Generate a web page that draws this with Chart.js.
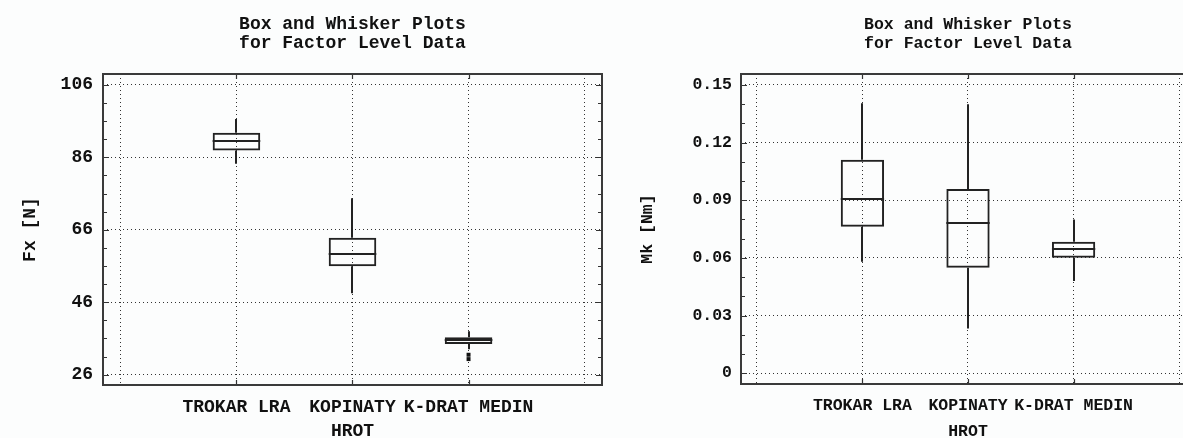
<!DOCTYPE html>
<html>
<head>
<meta charset="utf-8">
<script src="https://cdn.jsdelivr.net/npm/chart.js@4.4.1/dist/chart.umd.min.js"></script>
<style>
    html, body { margin: 0; padding: 0; background: #fcfdfd; width: 1183px; height: 438px; overflow: hidden; position: relative; }
    canvas { position: absolute; top: 0; }
    #fxChart { left: 0; }
    #mkChart { left: 620px; }
</style>
</head>
<body>
<canvas id="fxChart" width="705" height="448"></canvas>
<canvas id="mkChart" width="696" height="448"></canvas>
<script>
const categories = ['TROKAR LRA', 'KOPINATY', 'K-DRAT MEDIN'];
const chartTitle = ['Box and Whisker Plots', 'for Factor Level Data'];
const xTitle = 'HROT';

// Fx [N]
const fxLow = [84.2, 48.5, 33.0];
const fxQ1 = [87.9, 55.9, 34.5];
const fxMedian = [90.4, 59.4, 35.5];
const fxQ3 = [92.8, 63.8, 36.3];
const fxHigh = [96.6, 74.7, 38.0];
const fxOutliers = [[], [], [31.5, 30.3]];
const fxTicks = [26, 46, 66, 86, 106];
const fxMinorStep = 5;

// Mk [Nm]
const mkLow = [0.058, 0.0233, 0.048];
const mkQ1 = [0.0762, 0.0549, 0.0601];
const mkMedian = [0.0907, 0.078, 0.0644];
const mkQ3 = [0.1111, 0.0958, 0.0684];
const mkHigh = [0.1405, 0.140, 0.080];
const mkOutliers = [[], [], []];
const mkTicks = [0, 0.03, 0.06, 0.09, 0.12, 0.15];
const mkMinorStep = 0.01;

Chart.defaults.font.family = '"Liberation Mono", "DejaVu Sans Mono", monospace';
Chart.defaults.font.weight = 'bold';
Chart.defaults.color = '#111';

// whiskers, medians, frame and inward tick marks
function boxWhiskerPlugin(s) {
    return {
        id: 'boxWhisker',
        afterDatasetsDraw(chart) {
            const { ctx, chartArea: a, scales: { x, y } } = chart;
            const bars = chart.getDatasetMeta(0).data;
            ctx.save();
            ctx.strokeStyle = '#222';
            ctx.lineWidth = 2;
            ctx.beginPath();
            s.median.forEach((m, i) => {
                const bar = bars[i];
                const cx = Math.round(x.getPixelForValue(i + 1));
                const ym = Math.round(y.getPixelForValue(m));
                ctx.moveTo(bar.x - bar.width / 2, ym);
                ctx.lineTo(bar.x + bar.width / 2, ym);
                ctx.moveTo(cx, y.getPixelForValue(s.high[i]));
                ctx.lineTo(cx, y.getPixelForValue(s.q3[i]));
                ctx.moveTo(cx, y.getPixelForValue(s.q1[i]));
                ctx.lineTo(cx, y.getPixelForValue(s.low[i]));
            });
            ctx.stroke();

            ctx.strokeStyle = '#333';
            ctx.lineWidth = 1.2;
            ctx.beginPath();
            for (let k = 0; ; k++) {
                const v = s.ticks[0] + k * s.minor;
                if (v > y.max) break;
                const major = s.ticks.some(t => Math.abs(t - v) < s.minor / 100);
                const len = major ? 6 : 4;
                const py = Math.round(y.getPixelForValue(v)) + 0.5;
                ctx.moveTo(a.left, py); ctx.lineTo(a.left + len, py);
                ctx.moveTo(a.right, py); ctx.lineTo(a.right - len, py);
            }
            categories.forEach((c, i) => {
                const px = Math.round(x.getPixelForValue(i + 1)) + 0.5;
                ctx.moveTo(px, a.top); ctx.lineTo(px, a.top + 5);
                ctx.moveTo(px, a.bottom); ctx.lineTo(px, a.bottom - 5);
            });
            ctx.stroke();

            ctx.strokeStyle = '#3a3a3a';
            ctx.lineWidth = 2;
            ctx.strokeRect(a.left, a.top, a.width, a.height);
            ctx.restore();
        }
    };
}

function makeChart(id, s) {
    const outlierPoints = s.outliers.flatMap((arr, i) => arr.map(v => ({ x: i + 1, y: v })));
    const gridPositions = Array.from({ length: categories.length + 2 }, (_, i) => ({ value: i }));
    const font = { size: s.fontSize, weight: 'bold' };

    return new Chart(document.getElementById(id), {
        type: 'bar',
        data: {
            datasets: [
                {
                    type: 'bar',
                    data: categories.map((c, i) => ({ x: i + 1, y: [s.q1[i], s.q3[i]] })),
                    backgroundColor: 'rgba(0,0,0,0)',
                    borderColor: '#222',
                    borderWidth: 2,
                    borderSkipped: false,
                    barPercentage: 0.41,
                    categoryPercentage: 1
                },
                {
                    type: 'scatter',
                    data: outlierPoints,
                    pointStyle: 'rect',
                    pointRadius: 2.8,
                    backgroundColor: '#111',
                    borderWidth: 0
                }
            ]
        },
        options: {
            responsive: false,
            animation: false,
            events: [],
            plugins: {
                legend: { display: false },
                tooltip: { enabled: false },
                title: {
                    display: true,
                    text: chartTitle,
                    color: '#111',
                    font: { ...font, lineHeight: 19 / s.fontSize },
                    padding: { top: 15, bottom: 21 }
                }
            },
            scales: {
                x: {
                    type: 'linear',
                    offset: false,
                    min: -0.15,
                    max: 4.15,
                    afterBuildTicks: sc => { sc.ticks = gridPositions; },
                    afterFit: sc => { sc.height = s.axisHeight; },
                    grid: { color: '#333', lineWidth: 1, drawTicks: false, offset: false },
                    border: { display: false, dash: [1, 3] },
                    ticks: {
                        font: font,
                        padding: 12,
                        autoSkip: false,
                        maxRotation: 0,
                        callback: v => categories[v - 1] || ''
                    },
                    title: { display: true, text: xTitle, font: font, padding: { top: 0, bottom: 6 } }
                },
                y: {
                    type: 'linear',
                    min: s.min,
                    max: s.max,
                    afterBuildTicks: sc => { sc.ticks = s.ticks.map(v => ({ value: v })); },
                    afterFit: sc => { sc.width = s.axisWidth; },
                    grid: { color: '#333', lineWidth: 1, drawTicks: false },
                    border: { display: false, dash: [1, 3] },
                    ticks: { font: font, padding: s.labelPad, callback: v => String(v) },
                    title: { display: true, text: s.yTitle, font: font, padding: { top: s.titlePad } }
                },
                yr: {
                    type: 'linear',
                    position: 'right',
                    grid: { display: false },
                    border: { display: false },
                    ticks: { display: false },
                    afterFit: sc => { sc.width = s.axisWidth; }
                }
            }
        },
        plugins: [boxWhiskerPlugin(s)]
    });
}

makeChart('fxChart', {
    low: fxLow, q1: fxQ1, median: fxMedian, q3: fxQ3, high: fxHigh, outliers: fxOutliers,
    ticks: fxTicks, minor: fxMinorStep, min: 23.15, max: 109.0, fontSize: 18,
    yTitle: 'Fx [N]', axisWidth: 103, axisHeight: 63, labelPad: 10, titlePad: 20
});

makeChart('mkChart', {
    low: mkLow, q1: mkQ1, median: mkMedian, q3: mkQ3, high: mkHigh, outliers: mkOutliers,
    ticks: mkTicks, minor: mkMinorStep, min: -0.0056, max: 0.1557, fontSize: 16.5,
    yTitle: 'Mk [Nm]', axisWidth: 121, axisHeight: 64, labelPad: 9, titlePad: 18
});
</script>
</body>
</html>
